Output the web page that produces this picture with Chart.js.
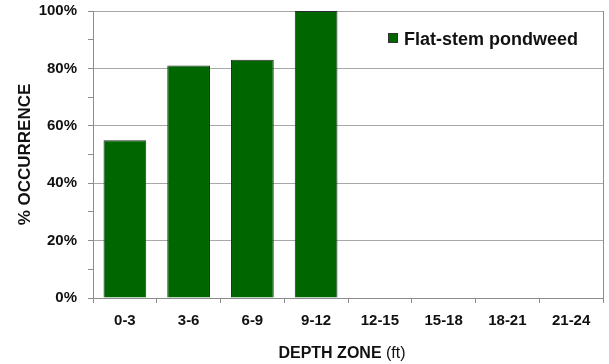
<!DOCTYPE html>
<html>
<head>
<meta charset="utf-8">
<style>
  html, body { margin: 0; padding: 0; background: #fff; }
  #wrap { width: 609px; height: 364px; }
</style>
<script src="https://cdn.jsdelivr.net/npm/chart.js@4/dist/chart.umd.min.js"></script>
</head>
<body>
<div id="wrap"><canvas id="chart" width="609" height="364"></canvas></div>
<script>
// Depth zones (ft) and percentage of sites where flat-stem pondweed occurs
const depthZones = ['0-3', '3-6', '6-9', '9-12', '12-15', '15-18', '18-21', '21-24'];
const occurrencePct = [55, 81, 83, 100, 0, 0, 0, 0];
const seriesName = 'Flat-stem pondweed';
const yTicks = [0, 20, 40, 60, 80, 100];

const FONT = '"Liberation Sans", Arial, Helvetica, sans-serif';
const GREEN = '#006600';
const AXIS = '#8c8c8c';
const GRID = '#a8a8a8';

// Legend drawn inside the plot area, top right
const legendInside = {
  id: 'legendInside',
  afterDraw(chart) {
    const ctx = chart.ctx;
    const ds = chart.data.datasets[0];
    ctx.save();
    ctx.fillStyle = ds.backgroundColor;
    ctx.strokeStyle = '#333';
    ctx.lineWidth = 1;
    ctx.fillRect(388.5, 33.5, 9, 9);
    ctx.strokeRect(388.5, 33.5, 9, 9);
    ctx.fillStyle = '#111';
    ctx.font = 'bold 18px ' + FONT;
    ctx.textBaseline = 'alphabetic';
    ctx.textAlign = 'left';
    ctx.fillText(ds.label, 404, 45);
    ctx.restore();
  }
};

// Category axis title with a bold name and a plain unit
const xTitle = {
  id: 'xTitle',
  afterDraw(chart) {
    const ctx = chart.ctx;
    ctx.save();
    ctx.fillStyle = '#111';
    ctx.textBaseline = 'alphabetic';
    ctx.textAlign = 'left';
    const bold = 'DEPTH ZONE';
    const plain = ' (ft)';
    ctx.font = 'bold 16px ' + FONT;
    const wb = ctx.measureText(bold).width;
    ctx.font = '16px ' + FONT;
    const wp = ctx.measureText(plain).width;
    const cx = 342;
    const x0 = cx - (wb + wp) / 2;
    ctx.font = 'bold 16px ' + FONT;
    ctx.fillText(bold, x0, 358);
    ctx.font = '16px ' + FONT;
    ctx.fillText(plain, x0 + wb, 358);
    ctx.restore();
  }
};

new Chart(document.getElementById('chart'), {
  type: 'bar',
  data: {
    labels: depthZones,
    datasets: [{
      label: seriesName,
      data: occurrencePct,
      backgroundColor: GREEN,
      borderColor: '#2a2a2a',
      borderWidth: 1,
      categoryPercentage: 1.0,
      barPercentage: 0.67
    }]
  },
  options: {
    responsive: false,
    animation: false,
    layout: { padding: { left: 0, top: 11, right: 6, bottom: 0 } },
    plugins: {
      legend: { display: false },
      tooltip: { enabled: false }
    },
    scales: {
      x: {
        afterFit(scale) {
          scale.height = 66;
          scale.paddingLeft = 0;
          scale.paddingRight = 0;
        },
        grid: {
          offset: true,
          drawOnChartArea: true,
          drawTicks: true,
          tickLength: 5,
          color: c => (c.type === 'scale' ? AXIS : 'rgba(0,0,0,0)'),
          tickColor: AXIS
        },
        border: { color: AXIS, width: 1 },
        ticks: {
          color: '#111',
          padding: 9,
          maxRotation: 0,
          autoSkip: false,
          font: { family: FONT, size: 15, weight: 'bold' }
        }
      },
      y: {
        min: 0,
        max: 100,
        afterFit(scale) {
          scale.width = 93;
          scale.paddingTop = 0;
          scale.paddingBottom = 0;
        },
        grid: {
          drawTicks: true,
          tickLength: 5,
          color: c => (yTicks.includes(c.tick.value) ? GRID : 'rgba(0,0,0,0)'),
          tickColor: AXIS
        },
        border: { color: AXIS, width: 1 },
        ticks: {
          stepSize: 10,
          padding: 11,
          color: '#111',
          font: { family: FONT, size: 15, weight: 'bold' },
          callback: v => (yTicks.includes(v) ? v + '%' : '')
        },
        title: {
          display: true,
          text: '% OCCURRENCE',
          color: '#111',
          font: { family: FONT, size: 17, weight: 'bold' },
          padding: { top: 15, bottom: 0 }
        }
      }
    }
  },
  plugins: [legendInside, xTitle]
});
</script>
</body>
</html>
